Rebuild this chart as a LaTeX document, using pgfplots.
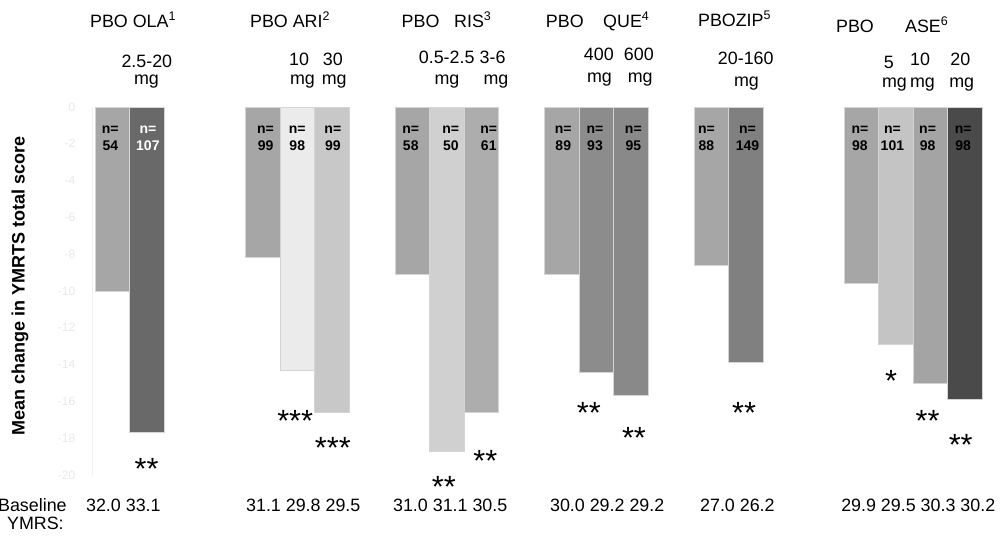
\documentclass[border=0pt]{standalone}
\usepackage{pgfplots}
\pgfplotsset{compat=1.18}
\usepackage{fontspec}
\setmainfont{Liberation Sans}

% bar fills
\definecolor{pbo}{HTML}{A6A6A6}
\definecolor{ola}{HTML}{696969}
\definecolor{ariA}{HTML}{EBEBEB}
\definecolor{ariB}{HTML}{C8C8C8}
\definecolor{risA}{HTML}{D0D0D0}
\definecolor{risB}{HTML}{ADADAD}
\definecolor{queA}{HTML}{8C8C8C}
\definecolor{queB}{HTML}{898989}
\definecolor{zip}{HTML}{808080}
\definecolor{aseA}{HTML}{C4C4C4}
\definecolor{aseB}{HTML}{A4A4A4}
\definecolor{aseC}{HTML}{4A4A4A}
\definecolor{edge}{HTML}{D4D4D4}

\newcommand{\hdr}{\fontsize{13.4}{15}\selectfont}
\newcommand{\nfont}{\fontsize{10.5}{12}\selectfont\bfseries}
\newcommand{\starfont}{\fontsize{23}{25}\selectfont}

% one bar of the chart: position, mean change, fill
\newcommand{\gbar}[3]{\addplot[ybar, bar width=1, bar shift=0pt, fill=#3, draw=edge, line width=0.6pt] coordinates {(#1,#2)};}
% sample size written inside a bar: position, n, text colour
\newcommand{\nlab}[3]{%
  \node[lbl, anchor=base, font=\nfont, text=#3] at (axis cs:#1,-1.467) {n=};
  \node[lbl, anchor=base, font=\nfont, text=#3] at (axis cs:#1,-2.380) {#2};}
% significance stars: position, level of the stars' lower edge, stars
\newcommand{\sig}[3]{%
  \node[lbl, anchor=base, font=\starfont, text depth=0pt] at (axis cs:#1,#2) {\raisebox{-0.42em}{#3}};}

\begin{document}
\begin{tikzpicture}[lbl/.style={inner sep=0pt}]
\path[use as bounding box] (0,0) rectangle (752.25pt,402pt);
\begin{axis}[
  at={(69pt,45.75pt)}, anchor=south west,
  x=25.875pt, y=13.8pt,
  xmin=-0.59, xmax=25.3, ymin=-20, ymax=0,
  clip=false,
  hide x axis,
  axis y line*=left,
  y axis line style={draw=black!6,-},
  ytick={-20,-18,...,0},
  major tick length=0pt,
  yticklabel style={text=black!9, font=\fontsize{9}{10}\selectfont, xshift=-9pt},
  /pgf/number format/assume math mode=true,
]
% olanzapine
\gbar{0}{-10.0}{pbo}
\gbar{1}{-17.7}{ola}
% aripiprazole
\gbar{4.36}{-8.2}{pbo}
\gbar{5.36}{-14.3}{ariA}
\gbar{6.36}{-16.6}{ariB}
% risperidone
\gbar{8.69}{-9.1}{pbo}
\gbar{9.69}{-18.7}{risA}
\gbar{10.69}{-16.6}{risB}
% quetiapine
\gbar{13.03}{-9.1}{pbo}
\gbar{14.03}{-14.4}{queA}
\gbar{15.03}{-15.7}{queB}
% ziprasidone
\gbar{17.36}{-8.6}{pbo}
\gbar{18.36}{-13.9}{zip}
% asenapine
\gbar{21.71}{-9.6}{pbo}
\gbar{22.71}{-12.9}{aseA}
\gbar{23.71}{-15.0}{aseB}
\gbar{24.71}{-15.9}{aseC}

% group headings
\node[lbl, anchor=base west, font=\hdr] at (axis cs:-0.652,4.304) {PBO OLA\textsuperscript{1}};
\node[lbl, anchor=base west, font=\hdr] at (axis cs:3.986,4.304) {PBO ARI\textsuperscript{2}};
\node[lbl, anchor=base west, font=\hdr] at (axis cs:8.38,4.337) {PBO};
\node[lbl, anchor=base west, font=\hdr] at (axis cs:9.90,4.337) {RIS\textsuperscript{3}};
\node[lbl, anchor=base west, font=\hdr] at (axis cs:12.56,4.337) {PBO};
\node[lbl, anchor=base west, font=\hdr] at (axis cs:14.22,4.337) {QUE\textsuperscript{4}};
\node[lbl, anchor=base west, font=\hdr] at (axis cs:16.97,4.391) {PBOZIP\textsuperscript{5}};
\node[lbl, anchor=base west, font=\hdr] at (axis cs:20.97,4.065) {PBO};
\node[lbl, anchor=base west, font=\hdr] at (axis cs:22.97,4.065) {ASE\textsuperscript{6}};

% doses
\node[lbl, anchor=base, font=\hdr] at (axis cs:1.0,2.130) {2.5-20};
\node[lbl, anchor=base, font=\hdr] at (axis cs:0.99,1.196) {mg};
\node[lbl, anchor=base, font=\hdr] at (axis cs:5.41,2.255) {10};
\node[lbl, anchor=base, font=\hdr] at (axis cs:6.39,2.255) {30};
\node[lbl, anchor=base, font=\hdr] at (axis cs:5.51,1.223) {mg};
\node[lbl, anchor=base, font=\hdr] at (axis cs:6.43,1.223) {mg};
\node[lbl, anchor=base, font=\hdr] at (axis cs:9.69,2.364) {0.5-2.5};
\node[lbl, anchor=base, font=\hdr] at (axis cs:11.02,2.364) {3-6};
\node[lbl, anchor=base, font=\hdr] at (axis cs:9.70,1.223) {mg};
\node[lbl, anchor=base, font=\hdr] at (axis cs:11.12,1.223) {mg};
\node[lbl, anchor=base, font=\hdr] at (axis cs:14.10,2.543) {400};
\node[lbl, anchor=base, font=\hdr] at (axis cs:15.26,2.543) {600};
\node[lbl, anchor=base, font=\hdr] at (axis cs:14.12,1.315) {mg};
\node[lbl, anchor=base, font=\hdr] at (axis cs:15.30,1.315) {mg};
\node[lbl, anchor=base, font=\hdr] at (axis cs:18.36,2.310) {20-160};
\node[lbl, anchor=base, font=\hdr] at (axis cs:18.38,1.098) {mg};
\node[lbl, anchor=base, font=\hdr] at (axis cs:22.51,2.076) {5};
\node[lbl, anchor=base, font=\hdr] at (axis cs:23.41,2.255) {10};
\node[lbl, anchor=base, font=\hdr] at (axis cs:24.58,2.255) {20};
\node[lbl, anchor=base, font=\hdr] at (axis cs:22.67,1.043) {mg};
\node[lbl, anchor=base, font=\hdr] at (axis cs:23.48,1.043) {mg};
\node[lbl, anchor=base, font=\hdr] at (axis cs:24.62,1.043) {mg};

% sample sizes
\nlab{-0.06}{54}{black}
\nlab{1.03}{107}{white}
\nlab{4.44}{99}{black}
\nlab{5.36}{98}{black}
\nlab{6.39}{99}{black}
\nlab{8.65}{58}{black}
\nlab{9.81}{50}{black}
\nlab{10.91}{61}{black}
\nlab{13.07}{89}{black}
\nlab{13.99}{93}{black}
\nlab{15.10}{95}{black}
\nlab{17.22}{88}{black}
\nlab{18.41}{149}{black}
\nlab{21.67}{98}{black}
\nlab{22.61}{101}{black}
\nlab{23.63}{98}{black}
\nlab{24.66}{98}{black}

% significance
\sig{0.99}{-19.54}{**}
\sig{5.30}{-16.96}{***}
\sig{6.39}{-18.42}{***}
\sig{9.61}{-20.52}{**}
\sig{10.81}{-19.13}{**}
\sig{13.81}{-16.52}{**}
\sig{15.12}{-17.85}{**}
\sig{18.31}{-16.52}{**}
\sig{22.57}{-14.78}{*}
\sig{23.63}{-16.96}{**}
\sig{24.59}{-18.26}{**}

% baseline scores
\node[lbl, anchor=base west, font=\hdr] at (axis cs:-3.319,-21.97) {Baseline};
\node[lbl, anchor=base west, font=\hdr] at (axis cs:-3.058,-22.96) {YMRS:};
\node[lbl, anchor=base west, font=\hdr] at (axis cs:-0.768,-21.97) {32.0 33.1};
\node[lbl, anchor=base west, font=\hdr] at (axis cs:3.870,-21.97) {31.1 29.8 29.5};
\node[lbl, anchor=base west, font=\hdr] at (axis cs:8.13,-21.97) {31.0 31.1 30.5};
\node[lbl, anchor=base west, font=\hdr] at (axis cs:12.68,-21.97) {30.0 29.2 29.2};
\node[lbl, anchor=base west, font=\hdr] at (axis cs:17.03,-21.97) {27.0 26.2};
\node[lbl, anchor=base west, font=\hdr] at (axis cs:21.12,-21.97) {29.9 29.5 30.3 30.2};

% axis title
\node[rotate=90, font=\bfseries\fontsize{13.5}{15}\selectfont] at (axis cs:-2.68,-9.73) {Mean change in YMRTS total score};
\end{axis}
\end{tikzpicture}
\end{document}
